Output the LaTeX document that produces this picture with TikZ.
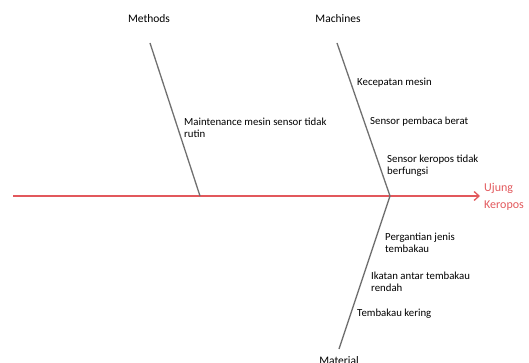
\documentclass[tikz,border=0pt]{standalone}
\usepackage{fontspec}
\setmainfont{Carlito}
\usetikzlibrary{arrows.meta}
\definecolor{spinered}{RGB}{226,88,92}
\definecolor{bonegray}{RGB}{112,112,112}
\begin{document}
\begin{tikzpicture}[x=1pt,y=-1pt,
  lbl/.style={font=\fontsize{10.8}{12}\selectfont, inner sep=0pt, anchor=west, align=left},
  eff/.style={font=\fontsize{12}{17}\selectfont, inner sep=0pt, anchor=west, align=left, text=spinered},
  cat/.style={font=\fontsize{11.5}{12}\selectfont, inner sep=0pt},
  bone/.style={draw=bonegray, line width=1.3pt},
  spine/.style={draw=spinered, line width=1.3pt}]
\useasboundingbox (0,0) rectangle (529,363);
% spine
\coordinate (tail) at (13,196);
\coordinate (head) at (480,196);
\coordinate (mj) at (390,196);
\coordinate (me) at (200,196);
\draw[spine, -{Straight Barb[length=5pt,width=9pt]}] (tail) -- (head);
\node[eff] (effect) at (484,197) {Ujung\\Keropos};
% bones
\coordinate (methtop) at (150,43);
\coordinate (machtop) at (337,43);
\coordinate (matbot) at (339,349);
\draw[bone] (methtop) -- (me);
\draw[bone] (machtop) -- (mj);
\draw[bone] (mj) -- (matbot);
% categories
\node[cat] (methods) at (149,19) {Methods};
\node[cat] (machines) at (338,19) {Machines};
\node[cat] (material) at (339,361) {Material};
% causes
\node[lbl] (c1) at (184,128) {Maintenance mesin sensor tidak\\rutin};
\node[lbl] (c2) at (357,83) {Kecepatan mesin};
\node[lbl] (c3) at (370,122) {Sensor pembaca berat};
\node[lbl] (c4) at (387,166) {Sensor keropos tidak\\berfungsi};
\node[lbl] (c5) at (385,243) {Pergantian jenis\\tembakau};
\node[lbl] (c6) at (371,282) {Ikatan antar tembakau\\rendah};
\node[lbl] (c7) at (357,314) {Tembakau kering};
\end{tikzpicture}
\end{document}
